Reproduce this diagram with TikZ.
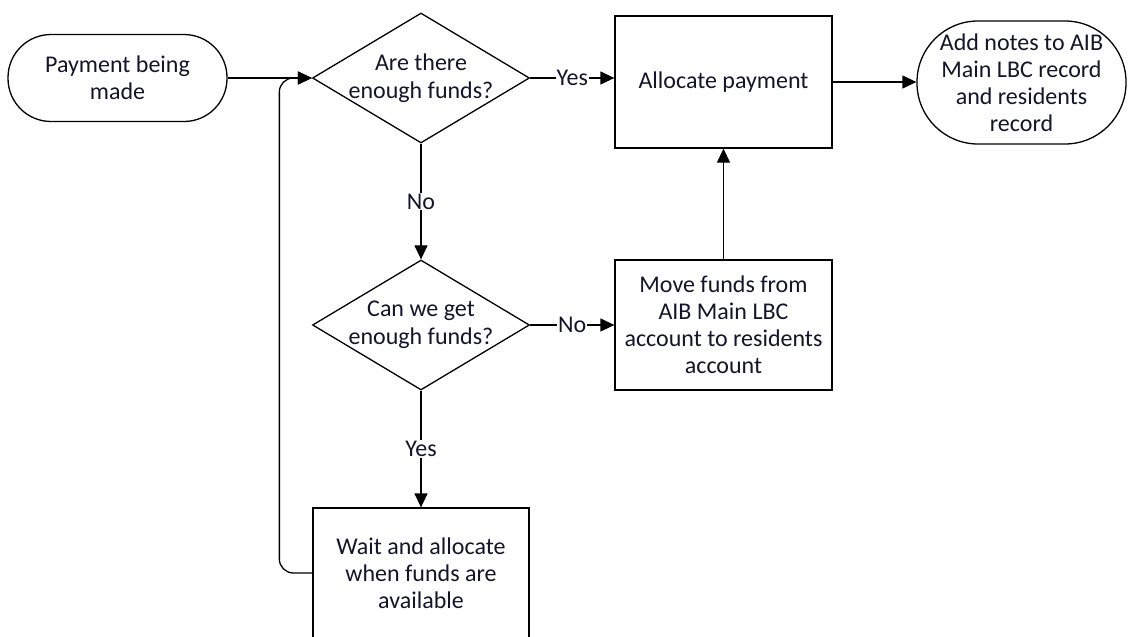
\documentclass[tikz,border=0pt]{standalone}
\usepackage{fontspec}
\setmainfont{Carlito}
\usetikzlibrary{shapes.geometric,arrows.meta}
\definecolor{txt}{HTML}{14142A}
\begin{document}
\begin{tikzpicture}[x=1pt,y=-1pt,
  every node/.style={font=\fontsize{24}{27}\selectfont, text=txt},
  proc/.style={draw=black, line width=1.3pt, rectangle, minimum width=217pt, inner sep=0pt, align=center},
  term/.style={draw=black, line width=1.3pt, rectangle, rounded corners=#1, inner sep=0pt, align=center},
  decision/.style={draw=black, diamond, line width=1.3pt, minimum width=217pt, minimum height=130pt, inner sep=0pt},
  dtext/.style={align=center, text=txt, font=\fontsize{24}{28}\selectfont},
  flow/.style={draw=black, line width=1.3pt, -{Triangle[length=14pt,width=13pt]}},
  lbl/.style={fill=white, inner sep=1pt}]
\useasboundingbox (0,0) rectangle (1128,637);
\node[term=43pt, minimum width=219pt, minimum height=87pt] (start) at (117.5,78) {Payment being\\made};
\node[decision, label={[dtext]center:{Are there\\enough funds?}}] (d1) at (421,78) {};
\node[proc, minimum height=132pt] (alloc) at (723.5,82) {Allocate payment};
\node[term=61pt, minimum width=209pt, minimum height=123pt] (end) at (1021.5,82.5) {Add notes to AIB\\Main LBC record\\and residents\\record};
\node[decision, label={[dtext]center:{Can we get\\enough funds?}}] (d2) at (421,325) {};
\node[proc, minimum height=130pt] (move) at (723.5,325) {Move funds from\\AIB Main LBC\\account to residents\\account};
\node[proc, minimum width=216pt, minimum height=130pt] (wait) at (421,573) {Wait and allocate\\when funds are\\available};

\draw[flow] (start) -- (d1);
\draw[flow] (d1.east) -- node[lbl]{Yes} (d1.east -| alloc.west);
\draw[flow] (alloc.east) -- (alloc.east -| end.west);
\draw[flow] (d1) -- node[lbl]{No} (d2);
\draw[flow] (d2) -- node[lbl]{No} (move);
\draw[flow] (move) -- (alloc);
\draw[flow] (d2) -- node[lbl]{Yes} (wait);
\draw[flow, rounded corners=14pt] (wait.west) -- ++(-33,0) |- (d1.west);
\end{tikzpicture}
\end{document}
